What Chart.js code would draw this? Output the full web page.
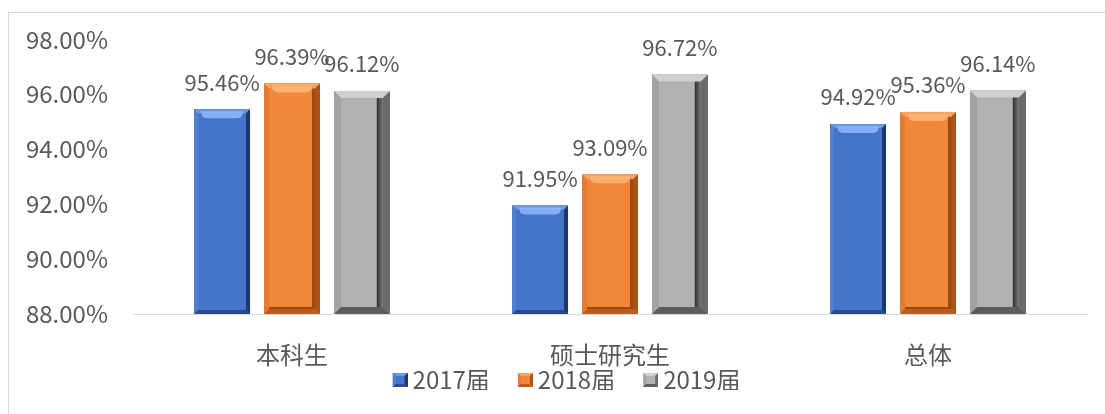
<!DOCTYPE html>
<html>
<head>
<meta charset="utf-8">
<script src="https://cdn.jsdelivr.net/npm/chart.js@4.4.0/dist/chart.umd.min.js"></script>
<style>
	body { margin: 0; width: 1105px; height: 414px; overflow: hidden; background: #fff; position: relative; }
	#frame { position: absolute; left: 8px; top: 12px; width: 1200px; height: 500px; border-left: 1px solid #d9d9d9; border-top: 1px solid #d9d9d9; }
	#wrap { position: absolute; left: 0; top: 0; width: 1125px; height: 414px; }
</style>
</head>
<body>
<div id="frame"></div>
<div id="wrap"><canvas id="myChart"></canvas></div>
<script>
// Chart data
const categories = ["本科生", "硕士研究生", "总体"];
const seriesNames = ["2017届", "2018届", "2019届"];
const values2017 = [95.46, 91.95, 94.92];
const values2018 = [96.39, 93.09, 95.36];
const values2019 = [96.12, 96.72, 96.14];
const yTicks = [88, 90, 92, 94, 96, 98];

// Bevel look for each series (blue, orange, gray)
const bevelStyles = [
	{ s: 4, face: "#4674c8", top: "#6b98e6", left: "#5080d4", right: "#1f3864", bottom: "#2b4c88", glow: "rgba(140,185,255,0.85)" },
	{ s: 5, face: "#f0873b", top: "#f6a261", left: "#e57b30", right: "#a8531a", bottom: "#b85d1d", inner: "#9c4a12", glow: "rgba(255,185,120,0.8)" },
	{ s: 7, face: "#b1b1b1", top: "#cfcfcf", left: "#a2a2a2", right: "#6a6a6a", bottom: "#5d5d5d", strip: true }
];

function quad(ctx, pts, color) {
	ctx.fillStyle = color;
	ctx.beginPath();
	ctx.moveTo(pts[0], pts[1]);
	for (let i = 2; i < pts.length; i += 2) ctx.lineTo(pts[i], pts[i + 1]);
	ctx.closePath();
	ctx.fill();
}

function drawBevel(ctx, l, t, r, b, st, s) {
	const w = r - l;
	s = Math.min(s, w / 3, (b - t) / 2);
	ctx.fillStyle = st.face;
	ctx.fillRect(l, t, w, b - t);
	quad(ctx, [l, t, r, t, r - s, t + s, l + s, t + s], st.top);
	quad(ctx, [l, t, l + s, t + s, l + s, b - s, l, b], st.left);
	quad(ctx, [r, t, r, b, r - s, b - s, r - s, t + s], st.right);
	quad(ctx, [l, b, r, b, r - s, b - s, l + s, b - s], st.bottom);
	if (st.strip) {
		// dark groove on the right side of the face
		const sw = Math.max(2, w * 0.11);
		const g = ctx.createLinearGradient(r - s - sw, 0, r - s, 0);
		g.addColorStop(0, "#2e2e2e");
		g.addColorStop(1, "#7a7a7a");
		ctx.fillStyle = g;
		ctx.fillRect(r - s - sw, t + s, sw, b - t - 2 * s);
	}
	if (st.inner) {
		ctx.fillStyle = st.inner;
		ctx.fillRect(r - s - 3, t + s, 3, b - t - 2 * s);
		ctx.fillRect(l + s, b - s - 2, w - 2 * s, 2);
	}
	if (st.glow && b - t > 12) {
		ctx.fillStyle = st.glow;
		ctx.beginPath();
		const gx = l + s + 3, gw = w - 2 * s - 6, gy = t + 2, gh = Math.min(7, (b - t) / 4);
		ctx.moveTo(gx, gy);
		ctx.lineTo(gx + gw, gy);
		ctx.quadraticCurveTo(gx + gw, gy + gh, gx + gw - 6, gy + gh);
		ctx.lineTo(gx + 6, gy + gh);
		ctx.quadraticCurveTo(gx, gy + gh, gx, gy);
		ctx.fill();
	}
}

// Small legend markers with the same bevel look.
// The box sits in the right half of a wider image so it ends up close to its text.
function makeMarker(st) {
	const c = document.createElement("canvas");
	c.width = 28;
	c.height = 14;
	drawBevel(c.getContext("2d"), 13, 0, 28, 14, Object.assign({}, st, { glow: null, strip: false, inner: null }), 3);
	return c;
}

const bevelBars = {
	id: "bevelBars",
	afterLayout(chart) {
		// move the legend up and a bit right, as in the original
		chart.legend.top -= 24;
		chart.legend.bottom -= 24;
		chart.legend.left += 20;
		chart.legend.right += 20;
	},
	afterDatasetsDraw(chart) {
		const ctx = chart.ctx;
		ctx.save();
		chart.data.datasets.forEach((ds, i) => {
			chart.getDatasetMeta(i).data.forEach((bar) => {
				const p = bar.getProps(["x", "y", "base", "width"], true);
				drawBevel(ctx, p.x - p.width / 2, p.y, p.x + p.width / 2, p.base, bevelStyles[i], bevelStyles[i].s);
			});
		});
		// value labels
		ctx.font = '22px "Noto Sans CJK SC"';
		ctx.fillStyle = "#595959";
		ctx.textAlign = "center";
		ctx.textBaseline = "middle";
		chart.data.datasets.forEach((ds, i) => {
			chart.getDatasetMeta(i).data.forEach((bar, j) => {
				ctx.fillText(ds.data[j].toFixed(2) + "%", bar.x, bar.y - 27);
			});
		});
		ctx.restore();
	}
};

const allValues = [values2017, values2018, values2019];
const baseColors = ["#4472c4", "#ed7d31", "#a5a5a5"];

Chart.defaults.font.family = '"Noto Sans CJK SC", "Noto Sans", sans-serif';
Chart.defaults.color = "#595959";

new Chart(document.getElementById("myChart"), {
	type: "bar",
	data: {
		labels: categories,
		datasets: seriesNames.map((name, i) => ({
			label: name,
			data: allValues[i],
			base: yTicks[0],
			backgroundColor: baseColors[i],
			borderWidth: 0,
			pointStyle: makeMarker(bevelStyles[i]),
			barPercentage: 0.8,
			categoryPercentage: 0.66,
		})),
	},
	options: {
		responsive: true,
		maintainAspectRatio: false,
		animation: false,
		layout: { padding: { top: 38, right: 38, bottom: 0, left: 0 } },
		plugins: {
			tooltip: { enabled: false },
			legend: {
				position: "bottom",
				maxHeight: 44,
				labels: {
					usePointStyle: true,
					boxWidth: 14,
					padding: 22,
					font: { size: 24 },
					color: "#595959",
				},
			},
		},
		scales: {
			x: {
				grid: { display: false, drawTicks: false },
				border: { display: true, color: "#d9d9d9", width: 1 },
				ticks: { font: { size: 24 }, padding: 26, color: "#595959" },
				afterFit: (s) => { s.height = 56; },
			},
			y: {
				min: yTicks[0],
				max: yTicks[yTicks.length - 1],
				grid: { display: false, drawTicks: false },
				border: { display: false },
				ticks: {
					stepSize: yTicks[1] - yTicks[0],
					font: { size: 24 },
					padding: 25,
					color: "#595959",
					callback: (v) => v.toFixed(2) + "%",
				},
				afterFit: (s) => { s.width = 133; },
			},
		},
	},
	plugins: [bevelBars],
});
</script>
</body>
</html>
